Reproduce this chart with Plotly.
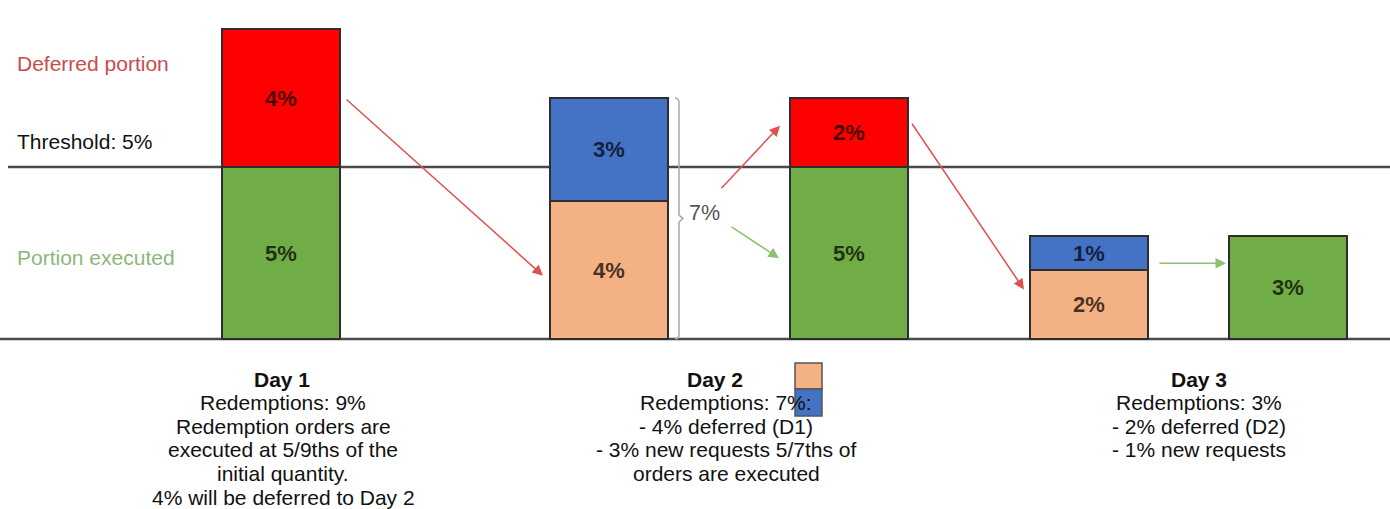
import plotly.graph_objects as go

# ---- data -------------------------------------------------------------
bar_names = ["Day 1", "Day 2", "Day 2 split", "Day 3", "Day 3 split"]
lower_values = [5, 4, 5, 2, 3]          # executed / deferred-from-previous part
upper_values = [4, 3, 2, 1, None]       # deferred / new-request part
threshold = 5

left_labels = ["Deferred portion", "Threshold: 5%", "Portion executed"]

day_notes = {
    "Day 1": ["Redemptions: 9%", "Redemption orders are", "executed at 5/9ths of the",
              "initial quantity.", "4% will be deferred to Day 2"],
    "Day 2": ["Redemptions: 7%:", "- 4% deferred (D1)", "- 3% new requests 5/7ths of",
              "orders are executed"],
    "Day 3": ["Redemptions: 3%", "- 2% deferred (D2)", "- 1% new requests"],
}

# ---- styling ----------------------------------------------------------
GREEN = "#70AD47"
RED = "#FF0000"
BLUE = "#4472C4"
PEACH = "#F4B183"
OUTLINE = "#2e2e2e"
FONT = "Liberation Sans, Arial, sans-serif"

lower_colors = [GREEN, PEACH, GREEN, PEACH, GREEN]
upper_colors = [RED, BLUE, RED, BLUE, GREEN]

W, H = 1390, 509
bar_x = [281, 609, 849, 1089, 1288]
bar_w = 118
half = bar_w / 2

# y axis: 0 sits at pixel 339, 34.4 px per percentage point
px_per_unit = 34.4
base_px = 339
y_min = -(H - base_px) / px_per_unit
y_max = y_min + H / px_per_unit

totals = [lo + (up or 0) for lo, up in zip(lower_values, upper_values)]

fig = go.Figure()

label_font = dict(family=FONT, size=22, color="rgba(0,0,0,0.72)")

fig.add_trace(go.Bar(
    x=bar_x, y=lower_values, width=bar_w,
    marker=dict(color=lower_colors, line=dict(color=OUTLINE, width=2)),
    text=[f"<b>{v}%</b>" for v in lower_values],
    textposition="inside", insidetextanchor="middle", textangle=0,
    textfont=label_font, hoverinfo="skip", showlegend=False,
))
fig.add_trace(go.Bar(
    x=bar_x, y=upper_values, width=bar_w,
    marker=dict(color=upper_colors, line=dict(color=OUTLINE, width=2)),
    text=[f"<b>{v}%</b>" if v else "" for v in upper_values],
    textposition="inside", insidetextanchor="middle", textangle=0,
    textfont=label_font, hoverinfo="skip", showlegend=False,
))

shapes = []
# threshold and base lines
shapes.append(dict(type="line", xref="x", yref="y", x0=8, x1=W, y0=threshold, y1=threshold,
                   line=dict(color="#4a4a4a", width=2.5), layer="below"))
shapes.append(dict(type="line", xref="x", yref="y", x0=0, x1=W, y0=0, y1=0,
                   line=dict(color="#4a4a4a", width=2.5), layer="below"))

# brace around the Day 2 total
bx = bar_x[1] + half + 11
t2 = totals[1]
mid = t2 / 2
shapes.append(dict(
    type="path", xref="x", yref="y",
    path=(f"M {bx-4},{t2} Q {bx},{t2} {bx},{t2-0.12} L {bx},{mid+0.1} "
          f"L {bx+4},{mid} L {bx},{mid-0.1} L {bx},0.12 Q {bx},0 {bx-4},0"),
    line=dict(color="#a8a8a8", width=1.5),
))

# small key squares next to the Day 2 note
def py(p):
    return 1 - p / H

shapes.append(dict(type="rect", xref="x", yref="paper", x0=795, x1=822, y0=py(389), y1=py(363),
                   fillcolor=PEACH, line=dict(color="#555555", width=1.5), layer="above"))
shapes.append(dict(type="rect", xref="x", yref="paper", x0=795, x1=822, y0=py(416), y1=py(389),
                   fillcolor=BLUE, line=dict(color="#555555", width=1.5), layer="above"))

annotations = []

# "7%" beside the brace
annotations.append(dict(x=bx + 8, y=mid + 0.15, xref="x", yref="y", text="7%", showarrow=False,
                        xanchor="left", yanchor="middle",
                        font=dict(family=FONT, size=21.5, color="#555555")))

# flow arrows between bars
RED_ARROW = "#E0504F"
GREEN_ARROW = "#8DC070"

def arrow(tail, head, color):
    annotations.append(dict(
        x=head[0], y=head[1], ax=tail[0], ay=tail[1],
        xref="x", yref="y", axref="x", ayref="y",
        text="", showarrow=True, arrowhead=2, arrowsize=1.4, arrowwidth=1.5,
        arrowcolor=color, standoff=0,
    ))

arrow((bar_x[0] + half + 5, lower_values[0] + upper_values[0] * 0.5),
      (bar_x[1] - half - 7, lower_values[1] * 0.46), RED_ARROW)
arrow((bar_x[1] + half + 52, totals[1] * 0.62),
      (bar_x[2] - half - 10, lower_values[2] + upper_values[2] * 0.6), RED_ARROW)
arrow((bar_x[1] + half + 62, totals[1] * 0.47),
      (bar_x[2] - half - 11, lower_values[2] * 0.47), GREEN_ARROW)
arrow((bar_x[2] + half + 3, lower_values[2] + upper_values[2] * 0.65),
      (bar_x[3] - half - 6, lower_values[3] * 0.72), RED_ARROW)
arrow((bar_x[3] + half + 10, lower_values[3] * 1.1),
      (bar_x[4] - half - 3, lower_values[3] * 1.1), GREEN_ARROW)

# left-hand labels
left_pos = [63, 142, 257]
left_colors = ["#C94B4B", "#111111", "#8DB77A"]
for txt, p, c in zip(left_labels, left_pos, left_colors):
    annotations.append(dict(x=15, y=py(p), xref="x", yref="paper", text=txt, showarrow=False,
                            xanchor="left", yanchor="middle",
                            font=dict(family=FONT, size=21, color=c)))

# notes under each day
note_x = {"Day 1": (282, 283), "Day 2": (715, 726), "Day 3": (1199, 1199)}
line_top = 379
line_step = 23.6
for day, lines in day_notes.items():
    hx, cx = note_x[day]
    annotations.append(dict(x=hx, y=py(line_top), xref="x", yref="paper",
                            text=f"<b>{day}</b>", showarrow=False,
                            xanchor="center", yanchor="middle",
                            font=dict(family=FONT, size=21, color="#111111")))
    for i, ln in enumerate(lines, start=1):
        annotations.append(dict(x=cx, y=py(line_top + i * line_step), xref="x", yref="paper",
                                text=ln, showarrow=False, xanchor="center", yanchor="middle",
                                font=dict(family=FONT, size=21, color="#111111")))

fig.update_layout(
    width=W, height=H,
    margin=dict(l=0, r=0, t=0, b=0),
    paper_bgcolor="white", plot_bgcolor="white",
    barmode="stack",
    xaxis=dict(range=[0, W], visible=False, fixedrange=True),
    yaxis=dict(range=[y_min, y_max], visible=False, fixedrange=True),
    shapes=shapes, annotations=annotations,
    uniformtext=dict(minsize=8, mode="show"),
)

fig.write_html("out.html", config={"displayModeBar": False})
